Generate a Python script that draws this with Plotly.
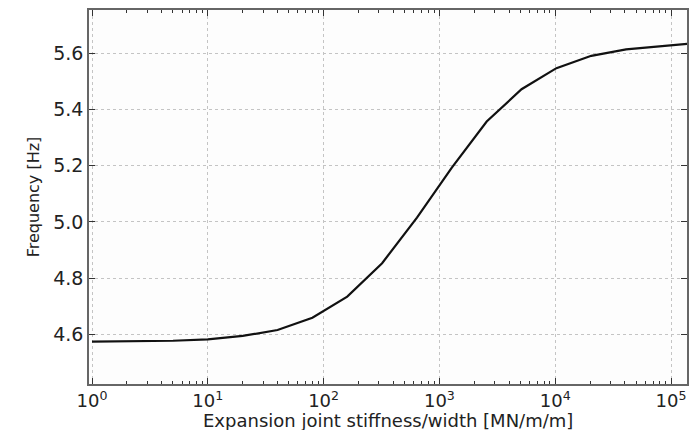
import plotly.graph_objects as go

stiffness = [1, 2.5, 5, 10, 20, 40, 80, 160, 320, 640, 1280, 2560, 5120, 10240, 20480, 40960, 81920, 163840]
frequency = [4.574, 4.575, 4.577, 4.582, 4.594, 4.615, 4.659, 4.734, 4.853, 5.015, 5.193, 5.357, 5.472, 5.547, 5.591, 5.614, 5.626, 5.636]

xtick_vals = [1, 10, 100, 1000, 10000, 100000]
xtick_text = ["10<sup>0</sup>", "10<sup>1</sup>", "10<sup>2</sup>", "10<sup>3</sup>", "10<sup>4</sup>", "10<sup>5</sup>"]
ytick_vals = [4.6, 4.8, 5.0, 5.2, 5.4, 5.6]
ytick_text = ["4.6", "4.8", "5.0", "5.2", "5.4", "5.6"]
x_title = "Expansion joint stiffness/width [MN/m/m]"
y_title = "Frequency [Hz]"

fig = go.Figure()
fig.add_trace(go.Scatter(x=stiffness, y=frequency, mode="lines",
                         line=dict(color="#111111", width=2.2), showlegend=False))

font = "DejaVu Sans"
fig.update_layout(
    width=691, height=430,
    margin=dict(l=89, r=2, t=10, b=46),
    paper_bgcolor="white", plot_bgcolor="#fdfdfd",
    font=dict(family=font, color="#222222"),
    annotations=[dict(text=x_title, xref="paper", yref="paper", x=0.5, y=-0.098,
                      xanchor="center", yanchor="middle", showarrow=False,
                      font=dict(size=18, family=font, color="#222222"))],
)
fig.update_xaxes(
    type="log", range=[-0.026, 5.138],
    tickvals=xtick_vals, ticktext=xtick_text,
    tickfont=dict(size=18, family=font),
    ticks="inside", ticklen=6, tickcolor="#333333", mirror="allticks",
    showline=True, linecolor="#666666", linewidth=1.5,
    showgrid=True, gridcolor="#c4c4c4", griddash="dot", gridwidth=1,
    minor=dict(ticks="inside", ticklen=3, tickcolor="#333333", dtick="D1", showgrid=False),
    zeroline=False,
)
fig.update_yaxes(
    range=[4.423, 5.754],
    tickvals=ytick_vals, ticktext=ytick_text,
    tickfont=dict(size=19, family=font),
    ticks="inside", ticklen=6, tickcolor="#333333", mirror="allticks",
    showline=True, linecolor="#666666", linewidth=1.5,
    showgrid=True, gridcolor="#c4c4c4", griddash="dot", gridwidth=1,
    zeroline=False,
    title=dict(text=y_title, font=dict(size=16, family=font), standoff=10),
)

fig.write_html("out.html")
